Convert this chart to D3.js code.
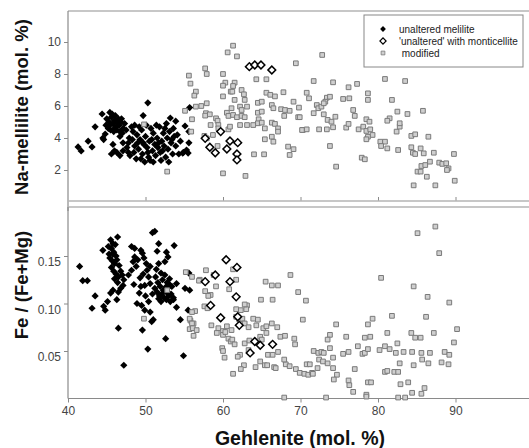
<!DOCTYPE html>
<html lang="en">
<head>
  <meta charset="UTF-8">
  <title>Melilite composition</title>
  <script src="https://cdn.jsdelivr.net/npm/d3@7"></script>
  <style>
    body { margin: 0; background: #fff; }
    text { font-family: "Liberation Sans", Arial, sans-serif; }
  </style>
</head>
<body>
<div id="chart"></div>

<script>
  // --- data: [gehlenite mol.%, value] ---
  // top panel: Na-melilite (mol. %)
  const naUnaltered = [
    [41.3,3.44],[41.7,3.19],[42.6,3.8],[43.1,3.44],[43.5,4.7],[44.4,5.5],[44.8,4.25],[44.5,4.0],[44.6,3.9],
    [50.3,6.2],[49.7,5.4],[49.9,2.5],[51.0,2.5],[53.2,5.25],[53.9,5.05],[52.7,4.9],[55.1,4.75],[55.7,5.9],
    [55.6,4.4],[55.6,3.7],[55.5,3.06],[54.8,3.06],[45.4,5.6],[47.8,3.1],[48.2,4.7],[48.6,4.8],[49.7,3.7],
    [54.9,3.1],[55.3,3.25],
    [45.0,5.2],[45.3,5.0],[45.6,5.3],[45.8,4.9],[46.0,5.1],[46.2,4.7],[46.4,5.0],[46.6,4.8],[46.9,5.2],
    [47.1,4.6],[45.2,4.6],[45.5,4.5],[45.9,4.4],[46.3,4.5],[46.7,4.4],[47.3,4.9],[47.5,4.5],[44.9,4.8],
    [45.7,5.5],[46.1,5.4],[46.5,5.2],[45.4,4.8],[46.8,5.0],[47.0,4.3],[46.0,4.6],
    [45.6,3.0],[46.0,3.2],[46.3,3.1],[46.7,2.9],[47.1,3.2],[46.7,4.1],[47.1,3.7],[45.8,3.6],[47.6,3.4],[47.9,4.0],
    [48.3,3.9],[48.6,3.5],[48.9,4.2],[49.1,3.3],[49.3,3.9],[49.5,4.5],[49.6,3.0],[49.8,3.6],[50.0,4.1],
    [50.2,3.4],[50.4,2.8],[50.5,3.8],[50.7,4.6],[50.9,3.2],[51.0,4.3],[51.2,3.6],[51.3,2.9],[51.5,4.0],
    [51.6,3.4],[51.8,4.7],[51.9,3.1],[52.1,3.8],[52.3,4.3],[52.4,3.5],[52.6,2.8],[52.8,4.0],[52.9,3.3],
    [53.1,4.4],[53.3,3.7],[53.5,3.0],[53.7,4.1],[53.9,3.5],[54.1,4.2],[54.3,3.0],[48.0,2.9],[48.4,4.4],
    [48.8,2.7],[49.2,4.7],[50.1,4.8],[50.6,2.6],[51.4,4.8],[52.0,2.6],[52.5,4.6],[53.0,2.5],[53.6,4.6],
    [54.5,3.8],[49.0,3.7],[50.8,3.9],[51.7,3.7],[52.2,3.2],[50.3,3.1],[49.4,2.7],[48.5,3.1],[53.4,3.9],[47.8,3.7]
  ];
  const naMonticellite = [
    [63.4,8.46],[64.1,8.56],[64.9,8.56],[66.3,8.25],[59.7,4.4],[57.7,3.98],[58.3,3.42],[59.0,3.08],
    [60.5,3.31],[60.9,3.81],[61.9,3.71],[61.8,3.0],[61.8,2.63]
  ];
  const naModified = [
    [49.8,4.85],[55.1,5.7],[52.8,1.9],
    [61.3,9.77],[60.6,9.35],[61.8,9.1],[69.4,8.67],[57.7,8.35],[57.9,8.0],[55.6,7.9],[60.0,8.0],[55.8,7.4],
    [64.3,7.67],[65.6,7.67],[60.3,7.46],[60.0,7.27],[61.5,7.46],[61.3,7.25],[56.5,6.9],[56.3,6.65],[61.0,6.9],
    [61.2,6.9],[62.4,7.0],[62.7,6.73],[65.6,6.83],[66.1,6.7],[66.7,6.6],[67.8,6.86],[60.0,6.6],[61.5,6.38],
    [62.8,6.38],[64.5,6.2],[65.0,6.27],[69.1,6.27],[69.8,5.9],[56.5,5.96],[57.2,6.0],[57.9,6.17],[61.1,5.86],
    [62.2,5.96],[62.4,5.75],[63.1,5.96],[66.3,6.06],[66.5,5.86],[67.5,5.8],[68.0,5.75],[68.6,5.7],[67.9,5.38],
    [69.7,5.3],[57.8,5.55],[57.7,5.4],[58.3,5.48],[60.5,5.58],[60.7,5.38],[61.3,5.44],[61.8,5.3],[62.4,5.38],
    [62.8,5.3],[64.5,5.58],[65.0,5.65],[64.6,5.17],[56.0,5.17],[59.1,5.23],[59.3,5.08],[64.5,4.92],[65.0,4.96],
    [66.3,4.96],[66.7,4.88],[62.2,4.81],[63.1,4.81],[63.9,4.81],[65.4,4.6],[67.1,4.6],[67.1,4.4],[70.3,4.5],
    [58.4,4.81],[59.4,4.81],[59.4,4.6],[55.9,4.4],[57.6,4.13],[57.9,3.98],[58.7,4.19],[65.4,3.92],[66.3,4.08],
    [66.5,3.77],[68.4,3.46],[69.1,3.3],[68.6,2.94],[64.0,2.98],[65.3,2.98],[60.0,1.79],[62.9,1.63],[59.3,3.5],
    [60.7,4.54],[60.9,4.71],
    [72.8,9.19],[71.7,7.56],[74.2,7.48],[76.2,7.17],[77.3,7.38],[80.9,7.69],[83.5,7.56],[70.8,6.83],[71.1,6.48],
    [73.4,6.52],[73.8,6.58],[73.2,6.27],[75.5,6.44],[76.3,6.48],[78.7,6.79],[78.7,6.38],[81.8,6.38],[72.1,6.06],
    [72.3,5.86],[72.7,5.96],[73.0,6.17],[71.7,5.55],[73.0,5.48],[76.8,5.75],[77.0,5.38],[69.9,5.3],[73.5,5.13],
    [74.0,5.02],[74.5,5.33],[78.5,5.17],[78.9,5.02],[81.5,5.23],[81.2,5.08],[82.5,5.65],[83.8,5.5],[85.8,5.7],
    [70.2,4.5],[70.8,4.54],[72.4,4.54],[73.4,4.54],[74.2,4.67],[75.9,4.65],[76.2,4.88],[77.5,4.54],[78.1,4.71],
    [78.5,4.44],[79.0,4.54],[79.3,4.19],[78.7,4.08],[78.5,3.92],[82.4,4.4],[82.8,4.71],[82.8,4.92],[84.3,4.13],
    [84.8,4.23],[86.5,4.08],[73.8,3.5],[80.3,3.77],[80.9,3.77],[80.4,3.5],[81.2,3.35],[82.6,3.25],[84.3,3.42],
    [84.5,3.08],[84.8,3.0],[85.5,3.35],[85.9,3.04],[87.2,3.08],[89.8,3.0],[77.9,2.77],[78.3,2.67],[74.6,2.21],
    [85.6,2.25],[86.1,2.31],[86.7,2.52],[87.9,2.46],[88.3,2.38],[88.8,2.42],[89.1,2.1],[88.9,2.0],[85.1,1.9],
    [85.5,1.9],[86.3,1.58],[84.6,1.04],[87.4,1.04],[89.9,1.33]
  ];

  // bottom panel: Fe / (Fe+Mg)
  const feUnaltered = [
    [50.9,0.1745],[51.2,0.176],[46.4,0.170],[45.5,0.167],[45.8,0.163],[44.5,0.156],[48.2,0.160],[48.6,0.158],
    [49.4,0.156],[49.6,0.153],[51.7,0.163],[53.7,0.161],[51.5,0.155],[52.7,0.154],[41.5,0.139],[41.9,0.124],
    [42.5,0.124],[43.5,0.108],[43.1,0.095],[44.6,0.097],[44.8,0.093],[45.1,0.102],[46.3,0.104],[45.5,0.111],
    [45.8,0.114],[46.5,0.112],[46.8,0.116],[47.1,0.119],[47.8,0.130],[48.2,0.135],[48.4,0.144],[48.6,0.149],
    [49.3,0.127],[49.7,0.131],[50.2,0.135],[50.6,0.139],[49.4,0.118],[49.9,0.119],[50.6,0.121],[48.9,0.100],
    [49.5,0.098],[50.4,0.102],[49.9,0.093],[50.6,0.091],[51.0,0.083],[50.8,0.081],[49.6,0.072],[46.5,0.074],
    [50.3,0.052],[47.2,0.035],[52.6,0.063],[54.9,0.045],[54.5,0.083],[54.0,0.096],[55.5,0.093],[51.7,0.142],
    [52.5,0.144],[52.9,0.149],[54.0,0.121],[55.1,0.116],[55.7,0.114],[55.6,0.132],[52.3,0.114],[52.7,0.118],
    [53.2,0.119],[51.7,0.105],[52.0,0.102],[52.7,0.104],[53.2,0.102],[53.6,0.104],
    [45.2,0.160],[45.6,0.158],[45.9,0.154],[46.2,0.150],[45.4,0.148],[45.7,0.145],[46.0,0.142],[46.3,0.146],
    [46.6,0.140],[45.6,0.138],[45.9,0.134],[46.2,0.131],[46.5,0.128],[46.8,0.134],[47.0,0.130],[47.2,0.125],
    [46.0,0.126],[46.4,0.122],[45.8,0.152],[46.1,0.162],[45.3,0.152],
    [51.3,0.128],[51.6,0.122],[51.9,0.118],[52.2,0.125],[52.5,0.130],[52.8,0.122],[53.1,0.126],[53.4,0.118],
    [51.5,0.112],[51.8,0.108],[52.1,0.110],[52.4,0.106],[52.7,0.112],[53.0,0.108],[53.3,0.110],[53.6,0.106],
    [51.2,0.116],[50.9,0.110],[52.0,0.132],[51.4,0.136],
    [49.0,0.146],[49.8,0.148],[50.1,0.142],[48.8,0.139],[49.2,0.111],[50.0,0.108],[48.5,0.120],[50.4,0.128]
  ];
  const feMonticellite = [
    [60.4,0.146],[61.8,0.138],[59.0,0.130],[57.7,0.123],[60.9,0.123],[61.7,0.107],[58.4,0.098],[59.7,0.085],
    [61.9,0.086],[62.1,0.077],[64.1,0.060],[64.8,0.056],[63.5,0.048],[66.4,0.057]
  ];
  const feModified = [
    [55.2,0.133],[52.8,0.114],[49.8,0.084],[55.8,0.082],[55.7,0.073],[56.2,0.066],[56.0,0.128],[57.0,0.125],
    [57.8,0.135],[56.9,0.124],[58.8,0.130],[59.1,0.118],[57.7,0.113],[58.4,0.109],[58.1,0.108],[61.3,0.136],
    [61.7,0.125],[60.8,0.115],[57.6,0.097],[58.0,0.095],[56.4,0.092],[56.0,0.091],[55.7,0.084],[56.2,0.079],
    [56.0,0.079],[56.1,0.074],[56.6,0.072],[63.1,0.098],[63.0,0.094],[64.9,0.104],[66.4,0.104],[65.5,0.123],
    [66.3,0.119],[67.1,0.119],[68.7,0.130],[69.7,0.112],[70.7,0.103],[70.3,0.083],[58.5,0.077],[59.4,0.074],
    [59.2,0.069],[60.0,0.071],[60.5,0.076],[61.1,0.072],[61.7,0.086],[62.1,0.083],[62.5,0.084],[62.8,0.079],
    [63.3,0.075],[60.0,0.067],[60.7,0.063],[61.0,0.060],[61.2,0.062],[61.5,0.057],[59.9,0.053],[60.0,0.050],
    [60.2,0.043],[62.2,0.046],[61.9,0.044],[62.8,0.058],[63.4,0.061],[63.3,0.051],[63.9,0.084],[64.5,0.083],
    [64.3,0.077],[65.2,0.074],[65.6,0.069],[64.8,0.065],[65.0,0.062],[65.6,0.076],[66.3,0.079],[67.0,0.075],
    [67.4,0.065],[68.0,0.066],[65.8,0.046],[66.4,0.046],[67.1,0.049],[64.8,0.039],[64.2,0.033],[65.4,0.035],
    [65.7,0.035],[66.6,0.033],[66.8,0.032],[62.7,0.035],[62.3,0.031],[61.3,0.026],[68.1,0.036],[68.6,0.034],
    [69.4,0.031],[69.9,0.027],[70.5,0.026],[71.0,0.025],[71.5,0.027],[69.2,0.063],[69.3,0.057],[67.9,0.041],
    [70.8,0.036],[61.7,0.094],[62.3,0.093],[60.3,0.070],[62.8,0.099],[67.9,0.001],
    [87.4,0.181],[85.1,0.174],[87.9,0.153],[80.4,0.127],[84.6,0.118],[86.4,0.107],[89.2,0.101],[74.6,0.078],
    [79.3,0.084],[78.7,0.078],[81.8,0.087],[86.2,0.086],[90.2,0.073],[89.8,0.059],[73.8,0.067],[73.5,0.062],
    [75.9,0.065],[78.3,0.064],[79.0,0.065],[81.2,0.069],[84.3,0.069],[84.8,0.064],[85.5,0.064],[87.2,0.069],
    [73.8,0.053],[71.7,0.050],[72.3,0.048],[72.7,0.049],[73.0,0.048],[72.4,0.041],[72.9,0.039],[73.5,0.037],
    [74.2,0.043],[75.5,0.047],[76.2,0.049],[77.4,0.055],[78.0,0.047],[78.3,0.048],[78.7,0.052],[80.2,0.051],
    [80.9,0.055],[81.5,0.052],[82.3,0.048],[82.5,0.058],[83.3,0.049],[84.4,0.049],[85.6,0.048],[86.7,0.048],
    [88.6,0.049],[89.2,0.046],[88.2,0.038],[89.1,0.036],[85.7,0.041],[86.5,0.037],[82.8,0.037],[84.6,0.035],
    [71.2,0.036],[71.6,0.026],[72.2,0.032],[74.2,0.032],[74.7,0.025],[74.3,0.020],[77.0,0.031],[76.2,0.019],
    [76.3,0.014],[76.8,0.007],[78.7,0.017],[79.1,0.017],[80.9,0.028],[81.2,0.029],[82.1,0.028],[82.6,0.028],
    [82.9,0.015],[83.9,0.017],[86.0,0.011],[85.6,0.005],[84.4,0.006],[78.5,0.004],[78.5,0.002],[82.6,0.001],
    [83.5,0.001],[73.3,0.001]
  ];

  const xTicks = [40, 50, 60, 70, 80, 90];
  const naTicks = [2, 4, 6, 8, 10];
  const feTicks = [0.05, 0.10, 0.15];

  const legendItems = [
    { label: "unaltered melilite", kind: "unaltered" },
    { label: "'unaltered' with monticellite", kind: "monticellite" },
    { label: " modified", kind: "modified" }
  ];

  // --- layout ---
  const width = 529, height = 448;
  const left = 68;

  const svg = d3.select("#chart").append("svg")
    .attr("width", width)
    .attr("height", height);

  const x = d3.scaleLinear().domain([40, 100]).range([left, 533]);
  const yNa = d3.scaleLinear().domain([0, 12]).range([202, 10]);
  const yFe = d3.scaleLinear().domain([0, 0.2]).range([398.5, 208.5]);

  const axisColor = "#8a8a8a";

  function drawMarks(g, data, y, kind) {
    const sel = g.append("g").selectAll("path").data(data).join("path")
      .attr("transform", d => `translate(${x(d[0])},${y(d[1])})` + (kind === "modified" ? "" : " rotate(45)"));
    styleMark(sel, kind);
  }

  function styleMark(sel, kind) {
    if (kind === "unaltered") {
      sel.attr("d", d3.symbol(d3.symbolSquare, 26)())
        .attr("fill", "#000");
    } else if (kind === "monticellite") {
      sel.attr("d", d3.symbol(d3.symbolSquare, 30)())
        .attr("fill", "#fff")
        .attr("stroke", "#000")
        .attr("stroke-width", 1.5);
    } else {
      sel.attr("d", d3.symbol(d3.symbolSquare, 22)())
        .attr("fill", "#cfcfcf")
        .attr("stroke", "#7a7a7a")
        .attr("stroke-width", 1);
    }
  }

  function panel(y, top, bottom, ticks, fmt, showX) {
    const g = svg.append("g");
    // top border
    g.append("line")
      .attr("x1", left).attr("x2", width)
      .attr("y1", top).attr("y2", top)
      .attr("stroke", "#b5b5b5").attr("stroke-width", 1.5);

    // left axis
    const ay = g.append("g")
      .attr("transform", `translate(${left},0)`)
      .call(d3.axisLeft(y).tickValues(ticks).tickFormat(fmt).tickSize(4).tickSizeOuter(0));
    ay.select(".domain").remove();
    ay.append("line").attr("y1", top).attr("y2", bottom + (showX ? 0 : 10))
      .attr("stroke", axisColor).attr("stroke-width", 1.2);

    // bottom axis
    const ax = g.append("g")
      .attr("transform", `translate(0,${bottom})`)
      .call(showX
        ? d3.axisBottom(x).tickValues(xTicks).tickSize(4).tickSizeOuter(0)
        : d3.axisTop(x).tickValues(xTicks.slice(1)).tickSize(4).tickSizeOuter(0).tickFormat(""));
    ax.select(".domain").remove();
    ax.append("line").attr("x1", left).attr("x2", width)
      .attr("stroke", showX ? axisColor : "#b5b5b5").attr("stroke-width", showX ? 1.2 : 1.5);

    g.selectAll(".tick line").attr("stroke", axisColor);
    g.selectAll(".tick text")
      .attr("font-size", 12)
      .attr("font-family", "Liberation Sans, Arial, sans-serif")
      .attr("fill", "#444");
    return g;
  }

  const gTop = panel(yNa, 11, 201, naTicks, d3.format("d"), false);
  const gBot = panel(yFe, 207, 398.5, feTicks, d3.format(".2f"), true);
  gBot.selectAll(".tick text").attr("dy", "0.8em");

  drawMarks(gTop, naUnaltered, yNa, "unaltered");
  drawMarks(gTop, naModified, yNa, "modified");
  drawMarks(gTop, naMonticellite, yNa, "monticellite");

  drawMarks(gBot, feUnaltered, yFe, "unaltered");
  drawMarks(gBot, feModified, yFe, "modified");
  drawMarks(gBot, feMonticellite, yFe, "monticellite");

  // axis titles
  svg.append("text")
    .attr("transform", "translate(28,107) rotate(-90)")
    .attr("text-anchor", "middle")
    .attr("font-size", 18.5).attr("font-weight", "bold")
    .attr("fill", "#111")
    .text("Na-mellilite (mol. %)");

  svg.append("text")
    .attr("transform", "translate(28,285) rotate(-90)")
    .attr("text-anchor", "middle")
    .attr("font-size", 18.5).attr("font-weight", "bold")
    .attr("fill", "#111")
    .text("Fe / (Fe+Mg)");

  svg.append("text")
    .attr("x", 300).attr("y", 445)
    .attr("text-anchor", "middle")
    .attr("font-size", 19.5).attr("font-weight", "bold")
    .attr("fill", "#111")
    .text("Gehlenite (mol. %)");

  // legend
  const legend = svg.append("g").attr("transform", "translate(364,15)");
  legend.append("rect")
    .attr("width", 159).attr("height", 52)
    .attr("fill", "#fff")
    .attr("stroke", "#888").attr("stroke-width", 1);

  const rows = legend.selectAll(".row").data(legendItems).join("g")
    .attr("class", "row")
    .attr("transform", (d, i) => `translate(0,${14 + i * 12})`);

  rows.each(function (d) {
    const mark = d3.select(this).append("path")
      .attr("transform", "translate(19,0)" + (d.kind === "modified" ? " scale(0.8)" : " rotate(45) scale(0.8)"));
    styleMark(mark, d.kind);
  });

  rows.append("text")
    .attr("x", 35).attr("dy", "0.35em")
    .attr("font-size", 10)
    .attr("fill", "#222")
    .attr("xml:space", "preserve")
    .style("white-space", "pre")
    .text(d => d.label);
</script>
</body>
</html>
